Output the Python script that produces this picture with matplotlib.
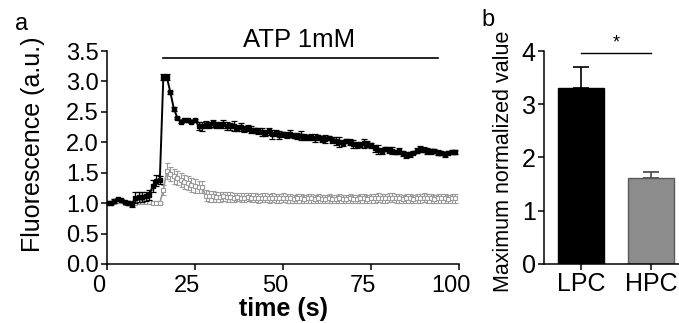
"""Calcium imaging: ATP response trace and peak comparison (LPC vs HPC)."""

import matplotlib
matplotlib.use("Agg")
import matplotlib.pyplot as plt
import matplotlib.transforms as mtransforms
import numpy as np

plt.rcParams["font.family"] = ["Liberation Sans", "DejaVu Sans"]

# ---- data -------------------------------------------------------------
time_s = list(range(100))

lpc_mean = [1.00, 1.01, 1.03, 1.06, 1.05, 1.02, 1.00, 0.98, 1.09, 1.10,
            1.10, 1.11, 1.13, 1.28, 1.37, 1.38, 3.07, 3.07, 2.82, 2.55,
            2.40, 2.34, 2.36, 2.37, 2.34, 2.37, 2.27, 2.26, 2.29, 2.28,
            2.31, 2.29, 2.28, 2.30, 2.27, 2.26, 2.27, 2.24, 2.25, 2.22,
            2.24, 2.21, 2.20, 2.19, 2.17, 2.16, 2.18, 2.13, 2.15, 2.12,
            2.13, 2.12, 2.14, 2.11, 2.10, 2.11, 2.09, 2.08, 2.09, 2.07,
            2.08, 2.06, 2.05, 2.07, 2.04, 2.02, 2.00, 1.99, 2.02, 2.01,
            1.97, 1.95, 1.96, 1.98, 1.97, 1.95, 1.90, 1.88, 1.86, 1.89,
            1.87, 1.86, 1.84, 1.85, 1.82, 1.79, 1.80, 1.83, 1.86, 1.89,
            1.88, 1.86, 1.85, 1.86, 1.83, 1.82, 1.80, 1.83, 1.84, 1.84]
lpc_err = [0.02, 0.02, 0.03, 0.03, 0.02, 0.02, 0.03, 0.04, 0.09, 0.08,
           0.08, 0.07, 0.08, 0.10, 0.09, 0.06, 0.05, 0.05, 0.03, 0.03,
           0.02, 0.02, 0.03, 0.02, 0.03, 0.02, 0.07, 0.08, 0.06, 0.05,
           0.06, 0.05, 0.05, 0.07, 0.06, 0.05, 0.08, 0.05, 0.06, 0.05,
           0.05, 0.06, 0.04, 0.05, 0.07, 0.05, 0.06, 0.08, 0.05, 0.06,
           0.04, 0.05, 0.06, 0.04, 0.05, 0.07, 0.05, 0.04, 0.05, 0.06,
           0.04, 0.05, 0.07, 0.04, 0.05, 0.06, 0.08, 0.05, 0.04, 0.05,
           0.06, 0.05, 0.04, 0.07, 0.05, 0.04, 0.06, 0.08, 0.05, 0.04,
           0.05, 0.06, 0.04, 0.05, 0.04, 0.05, 0.04, 0.03, 0.04, 0.05,
           0.04, 0.05, 0.04, 0.03, 0.04, 0.03, 0.04, 0.03, 0.03, 0.03]

hpc_mean = [1.00, 1.01, 1.02, 1.04, 1.03, 1.01, 1.00, 1.00, 1.01, 1.02,
            1.02, 1.02, 1.02, 1.01, 1.01, 1.00, 1.22, 1.53, 1.48, 1.44,
            1.41, 1.38, 1.35, 1.33, 1.30, 1.28, 1.26, 1.27, 1.12, 1.11,
            1.11, 1.10, 1.10, 1.11, 1.10, 1.10, 1.09, 1.10, 1.09, 1.09,
            1.10, 1.09, 1.09, 1.08, 1.09, 1.09, 1.08, 1.09, 1.08, 1.08,
            1.09, 1.08, 1.08, 1.07, 1.08, 1.08, 1.07, 1.08, 1.08, 1.07,
            1.08, 1.07, 1.07, 1.08, 1.07, 1.07, 1.08, 1.07, 1.07, 1.08,
            1.07, 1.07, 1.08, 1.08, 1.07, 1.08, 1.08, 1.09, 1.08, 1.08,
            1.09, 1.09, 1.08, 1.08, 1.07, 1.08, 1.08, 1.07, 1.08, 1.08,
            1.09, 1.08, 1.08, 1.07, 1.08, 1.08, 1.08, 1.07, 1.08, 1.08]
hpc_err = [0.02, 0.02, 0.02, 0.03, 0.02, 0.02, 0.02, 0.02, 0.02, 0.02,
           0.02, 0.02, 0.02, 0.02, 0.02, 0.02, 0.08, 0.13, 0.12, 0.12,
           0.12, 0.12, 0.12, 0.11, 0.11, 0.11, 0.10, 0.10, 0.09, 0.09,
           0.09, 0.08, 0.08, 0.08, 0.08, 0.08, 0.07, 0.07, 0.07, 0.07,
           0.07, 0.07, 0.07, 0.07, 0.07, 0.07, 0.07, 0.07, 0.07, 0.07,
           0.07, 0.07, 0.07, 0.07, 0.07, 0.07, 0.07, 0.07, 0.07, 0.07,
           0.07, 0.07, 0.07, 0.07, 0.07, 0.07, 0.07, 0.07, 0.07, 0.07,
           0.07, 0.07, 0.07, 0.07, 0.07, 0.07, 0.07, 0.07, 0.07, 0.07,
           0.07, 0.07, 0.07, 0.07, 0.07, 0.07, 0.07, 0.07, 0.07, 0.07,
           0.07, 0.07, 0.07, 0.07, 0.07, 0.07, 0.07, 0.07, 0.07, 0.07]

atp_start, atp_end, atp_level = 16, 94, 3.38

groups = ["LPC", "HPC"]
peak_mean = [3.30, 1.61]
peak_sem = [0.40, 0.11]

GRAY = "#9a9a9a"

# ---- figure -----------------------------------------------------------
fig = plt.figure(figsize=(6.79, 3.23), dpi=100)
ax_a = fig.add_axes([0.1576, 0.1827, 0.5184, 0.6594])
ax_b = fig.add_axes([0.8012, 0.1827, 0.1988, 0.6594])

# Panel a: fluorescence traces
ax_a.errorbar(time_s, hpc_mean, yerr=hpc_err, color=GRAY, marker="s",
              markersize=2.6, markerfacecolor="white", markeredgecolor=GRAY,
              markeredgewidth=0.8, linewidth=1.2, elinewidth=0.8,
              capsize=1.8, capthick=0.8, zorder=2)
ax_a.errorbar(time_s, lpc_mean, yerr=lpc_err, color="black", marker="s",
              markersize=3.2, linewidth=1.4, elinewidth=0.9,
              capsize=2.0, capthick=0.9, zorder=3)

ax_a.plot([atp_start, atp_end], [atp_level, atp_level], color="black",
          linewidth=1.2, clip_on=False)
ax_a.text(54.5, atp_level + 0.1, "ATP 1mM",
          ha="center", va="bottom", fontsize=18.5)

ax_a.set_xlim(0, 100)
ax_a.set_ylim(0, 3.5)
ax_a.set_xticks([0, 25, 50, 75, 100])
ax_a.set_yticks(np.arange(0, 3.6, 0.5))
ax_a.set_yticklabels([f"{v:.1f}" for v in np.arange(0, 3.6, 0.5)])
ax_a.set_xlabel("time (s)", fontsize=18, fontweight="bold", labelpad=0)
ax_a.set_ylabel("Fluorescence (a.u.)", fontsize=18)
ax_a.yaxis.set_label_coords(-0.176, 0.56)
ax_a.tick_params(direction="out", length=4, width=1.1, labelsize=17, pad=2)
ax_a.tick_params(axis="x", pad=4)
for lbl in ax_a.get_xticklabels():
    lbl.set_transform(lbl.get_transform() +
                      mtransforms.ScaledTranslation(-0.08, 0, fig.dpi_scale_trans))

# Panel b: peak response bars
xpos = np.arange(len(groups))
bar_fill = ["black", "#8c8c8c"]
bar_edge = ["black", "#5a5a5a"]
ax_b.bar(xpos, peak_mean, width=0.667, color=bar_fill,
         edgecolor=bar_edge, linewidth=1.0, zorder=2)
for x, m, s, ec in zip(xpos, peak_mean, peak_sem, ["black", "#444444"]):
    ax_b.errorbar(x, m, yerr=[[0], [s]], fmt="none", ecolor=ec,
                  elinewidth=1.2, capsize=6, capthick=1.2, zorder=1)
ax_b.plot([0, 1], [3.97, 3.97], color="black", linewidth=1.0, clip_on=False)
ax_b.text(0.5, 3.99, "*", ha="center", va="bottom", fontsize=13)

ax_b.set_xlim(-0.53, 1.40)
ax_b.set_ylim(0, 4)
ax_b.set_xticks(xpos)
ax_b.set_xticklabels(groups)
ax_b.set_yticks([0, 1, 2, 3, 4])
ax_b.set_ylabel("Maximum normalized value", fontsize=15.5)
ax_b.yaxis.set_label_coords(-0.22, 0.48)
ax_b.tick_params(direction="out", length=4, width=1.1, labelsize=18, pad=2)

for ax in (ax_a, ax_b):
    ax.spines["top"].set_visible(False)
    ax.spines["right"].set_visible(False)
    ax.spines["left"].set_linewidth(1.1)
    ax.spines["bottom"].set_linewidth(1.1)

fig.text(0.022, 0.925, "a", fontsize=17, ha="left", va="center")
fig.text(0.709, 0.938, "b", fontsize=17, ha="left", va="center")

fig.savefig("out.png", dpi=100)
